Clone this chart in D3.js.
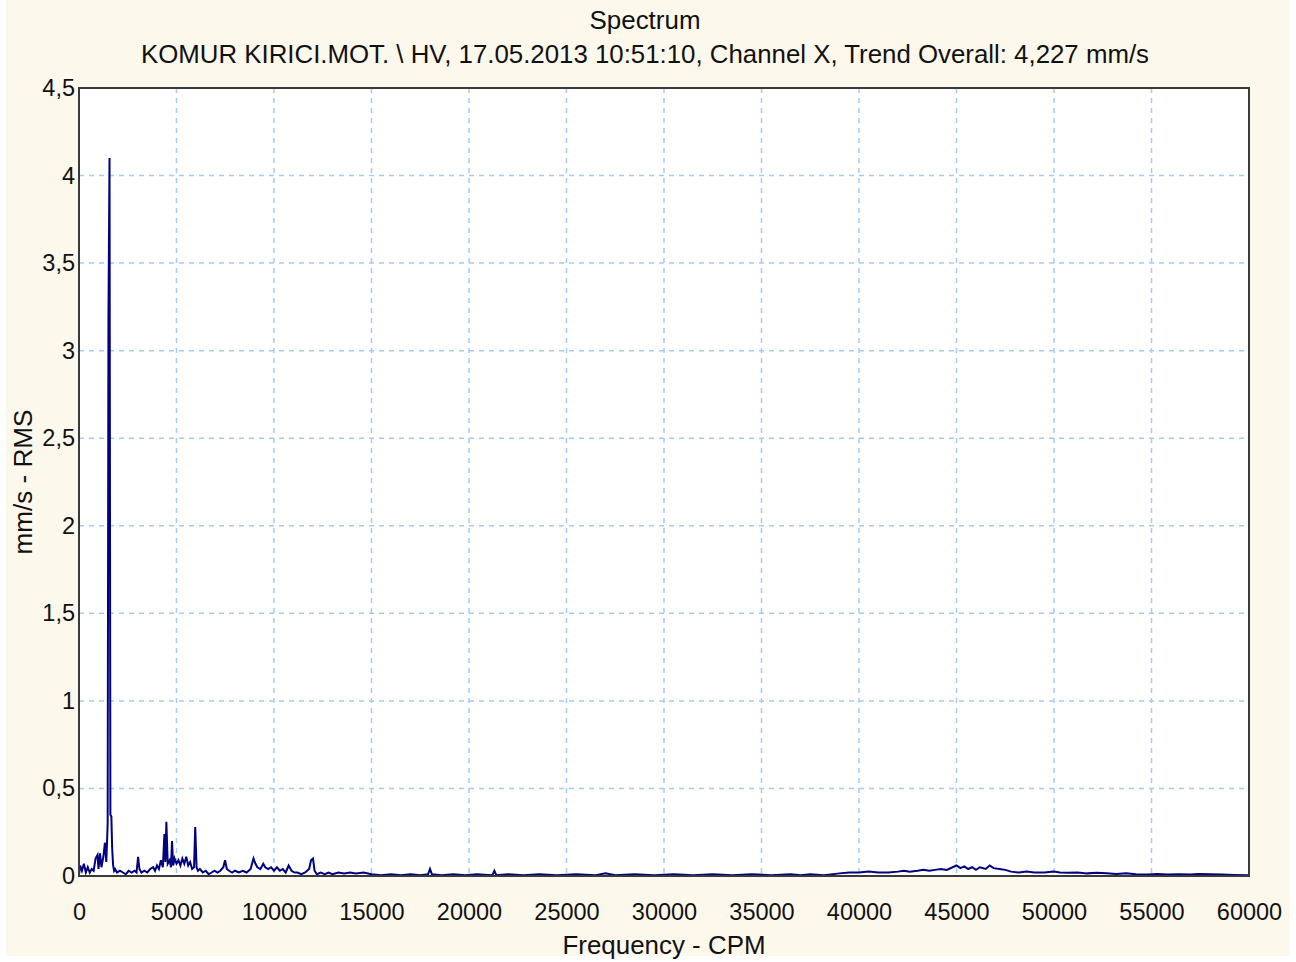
<!DOCTYPE html>
<html>
<head>
<meta charset="utf-8">
<script src="https://cdn.jsdelivr.net/npm/d3@7"></script>
<style>
  html, body { margin: 0; padding: 0; background: #ffffff; }
  svg { display: block; font-family: "Liberation Sans", Arial, sans-serif; }
</style>
</head>
<body>
<div id="chart"></div>
<script>
const titleText = "Spectrum";
const subtitleText = "KOMUR KIRICI.MOT. \\ HV, 17.05.2013 10:51:10, Channel X, Trend Overall: 4,227 mm/s";
const xLabel = "Frequency - CPM";
const yLabel = "mm/s - RMS";
const xTicks = [0, 5000, 10000, 15000, 20000, 25000, 30000, 35000, 40000, 45000, 50000, 55000, 60000];
const yTicks = [0, 0.5, 1, 1.5, 2, 2.5, 3, 3.5, 4, 4.5];

// [CPM, mm/s]
const lowBand = [
  [0, 0.01], [60, 0.06], [150, 0.03], [250, 0.07], [350, 0.02], [450, 0.05], [550, 0.02],
  [650, 0.04], [750, 0.03], [850, 0.10], [950, 0.12], [1000, 0.04], [1080, 0.13], [1150, 0.05],
  [1250, 0.11], [1330, 0.19], [1400, 0.08], [1470, 0.30], [1510, 3.17], [1565, 4.10],
  [1610, 0.35], [1660, 0.34], [1700, 0.16], [1750, 0.06], [1800, 0.03], [1850, 0.04],
  [1950, 0.02], [2100, 0.03], [2250, 0.02], [2400, 0.01], [2550, 0.03], [2700, 0.02],
  [2850, 0.03], [2950, 0.02], [3030, 0.11], [3100, 0.04], [3200, 0.02], [3350, 0.03],
  [3500, 0.02], [3650, 0.04], [3800, 0.05], [3900, 0.03], [4000, 0.06], [4100, 0.04],
  [4200, 0.09], [4300, 0.05], [4380, 0.24], [4430, 0.08], [4480, 0.31], [4550, 0.07],
  [4650, 0.09], [4720, 0.05], [4770, 0.20], [4830, 0.06], [4900, 0.10], [5000, 0.07],
  [5100, 0.09], [5200, 0.06], [5300, 0.10], [5400, 0.07], [5500, 0.11], [5600, 0.06],
  [5700, 0.08], [5800, 0.04], [5900, 0.05], [5960, 0.28], [6030, 0.05], [6100, 0.03],
  [6200, 0.04], [6350, 0.02], [6500, 0.03], [6650, 0.01], [6800, 0.02], [6950, 0.03],
  [7100, 0.02], [7250, 0.03], [7400, 0.05], [7490, 0.09], [7580, 0.04], [7700, 0.03],
  [7850, 0.02], [8000, 0.03], [8200, 0.02], [8400, 0.03], [8600, 0.02], [8800, 0.04],
  [8950, 0.10], [9050, 0.07], [9150, 0.05], [9300, 0.04], [9450, 0.07], [9550, 0.05],
  [9700, 0.04], [9850, 0.05], [10000, 0.03], [10150, 0.05], [10300, 0.03], [10450, 0.04],
  [10600, 0.02], [10750, 0.06], [10900, 0.03], [11050, 0.02], [11200, 0.02], [11400, 0.01],
  [11600, 0.02], [11800, 0.04], [11900, 0.09], [12000, 0.10], [12080, 0.03], [12200, 0.01],
  [12400, 0.02], [12600, 0.01], [12800, 0.02]
];

const midBand = [
  [13000, 0.01], [13300, 0.02], [13600, 0.015], [13900, 0.02], [14200, 0.015], [14600, 0.02],
  [15000, 0.01], [15500, 0.005], [16000, 0.01], [16500, 0.005], [17000, 0.01], [17500, 0.005],
  [17900, 0.01], [18000, 0.04], [18100, 0.01], [18600, 0.005], [19200, 0.01], [19800, 0.005],
  [20400, 0.01], [21200, 0.005], [21300, 0.03], [21400, 0.005], [22000, 0.01], [22800, 0.005],
  [23600, 0.01], [24500, 0.005], [25500, 0.01], [26500, 0.005], [27000, 0.015], [27500, 0.005],
  [28500, 0.01], [29500, 0.005], [30500, 0.01], [31500, 0.005], [32500, 0.01], [33500, 0.005],
  [34500, 0.01], [35500, 0.005], [36500, 0.01], [37000, 0.005], [37500, 0.01], [38200, 0.005]
];

const highBand = [
  [39000, 0.015], [39500, 0.02], [40000, 0.02], [40500, 0.025], [41000, 0.02], [41500, 0.02],
  [42000, 0.025], [42300, 0.03], [42600, 0.025], [43000, 0.03], [43300, 0.035], [43600, 0.03],
  [43900, 0.035], [44200, 0.04], [44500, 0.035], [44800, 0.05], [45000, 0.06], [45200, 0.045],
  [45400, 0.055], [45600, 0.04], [45800, 0.05], [46000, 0.035], [46200, 0.05], [46500, 0.04],
  [46700, 0.06], [46900, 0.045], [47200, 0.04], [47500, 0.035], [47800, 0.025], [48200, 0.02],
  [48600, 0.025], [49000, 0.02], [49500, 0.02], [50000, 0.025], [50300, 0.02], [50700, 0.018],
  [51200, 0.02], [51700, 0.015], [52200, 0.018], [52700, 0.015], [53200, 0.012], [53700, 0.015],
  [54200, 0.01], [54800, 0.008], [55300, 0.012], [55800, 0.008], [56400, 0.01], [57000, 0.008],
  [57400, 0.012], [58000, 0.01], [58600, 0.008], [59200, 0.006], [60000, 0.004]
];

const spectrum = lowBand.concat(midBand, highBand);

const W = 1296, H = 962;
const margin = { top: 88, right: 47, bottom: 86, left: 79 };
const width = W - margin.left - margin.right;
const height = H - margin.top - margin.bottom;

const svg = d3.select("#chart").append("svg").attr("width", W).attr("height", H);

// cream panel
svg.append("rect").attr("x", 6).attr("y", 0).attr("width", 1283).attr("height", 956).attr("fill", "#fdf8ec");

const x = d3.scaleLinear().domain([0, 60000]).range([0, width]);
const y = d3.scaleLinear().domain([0, 4.5]).range([height, 0]);

const g = svg.append("g").attr("transform", `translate(${margin.left},${margin.top})`);

g.append("rect").attr("width", width).attr("height", height).attr("fill", "#ffffff");

// grid
g.append("g").selectAll("line").data(xTicks.slice(1, -1)).join("line")
  .attr("x1", d => x(d)).attr("x2", d => x(d)).attr("y1", 0).attr("y2", height)
  .attr("stroke", "#a6ccf2").attr("stroke-width", 1.5).attr("stroke-dasharray", "5,5");
g.append("g").selectAll("line").data(yTicks.slice(1, -1)).join("line")
  .attr("y1", d => y(d)).attr("y2", d => y(d)).attr("x1", 0).attr("x2", width)
  .attr("stroke", "#a6ccf2").attr("stroke-width", 1.5).attr("stroke-dasharray", "5,5");

// spectrum line
const line = d3.line().x(d => x(d[0])).y(d => y(d[1]));
g.append("path").datum(spectrum)
  .attr("fill", "none").attr("stroke", "#000080").attr("stroke-width", 2)
  .attr("stroke-linejoin", "miter").attr("d", line);

// frame
g.append("rect").attr("width", width).attr("height", height)
  .attr("fill", "none").attr("stroke", "#3a3a3a").attr("stroke-width", 2);

// axes
const fmt = d => String(d).replace(".", ",");
const xAxis = g.append("g").attr("transform", `translate(0,${height})`)
  .call(d3.axisBottom(x).tickValues(xTicks).tickFormat(d => d).tickSize(0).tickPadding(36));
const yAxis = g.append("g")
  .call(d3.axisLeft(y).tickValues(yTicks).tickFormat(fmt).tickSize(0).tickPadding(4));
[xAxis, yAxis].forEach(a => {
  a.select(".domain").remove();
  a.selectAll("text").attr("fill", "#111").style("font-size", "23.5px")
    .style("font-family", "'Liberation Sans', Arial, sans-serif");
});
xAxis.selectAll("text").attr("dy", "0.35em");

// titles
svg.append("text").attr("x", 645).attr("y", 29).attr("text-anchor", "middle")
  .style("font-size", "25px").attr("fill", "#111")
  .attr("textLength", 111).attr("lengthAdjust", "spacingAndGlyphs").text(titleText);
svg.append("text").attr("x", 645).attr("y", 63).attr("text-anchor", "middle")
  .style("font-size", "25px").attr("fill", "#111")
  .attr("textLength", 1008).attr("lengthAdjust", "spacingAndGlyphs").text(subtitleText);
svg.append("text").attr("x", margin.left + width / 2).attr("y", 954).attr("text-anchor", "middle")
  .style("font-size", "25px").attr("fill", "#111")
  .attr("textLength", 203).attr("lengthAdjust", "spacingAndGlyphs").text(xLabel);
svg.append("text").attr("transform", `translate(32,${margin.top + height / 2}) rotate(-90)`)
  .attr("text-anchor", "middle").style("font-size", "25px").attr("fill", "#111")
  .attr("textLength", 145).attr("lengthAdjust", "spacingAndGlyphs").text(yLabel);
</script>
</body>
</html>
